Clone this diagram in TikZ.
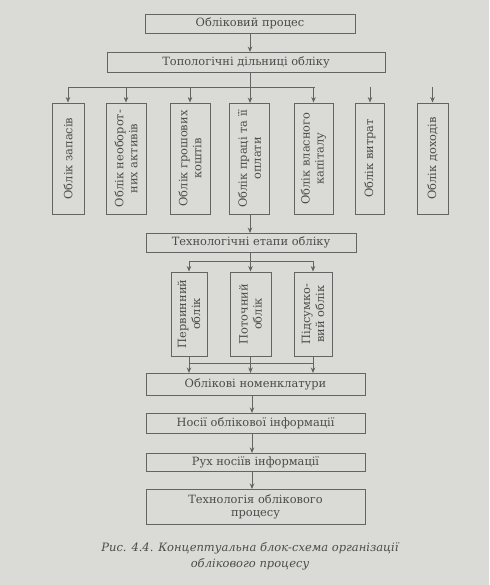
\documentclass[tikz,border=0pt]{standalone}
\usepackage{fontspec}
\setmainfont{DejaVu Serif}
\usetikzlibrary{arrows.meta}
\definecolor{paper}{RGB}{218,218,215}
\definecolor{ink}{RGB}{75,75,75}
\definecolor{linec}{RGB}{100,100,100}
\tikzset{
  hbox/.style={draw=linec, line width=0.9pt, fill=paper, text=ink, font=\fontsize{11.4}{13}\selectfont, inner sep=0pt, align=center},
  vbox/.style={draw=linec, line width=0.9pt, fill=paper, text=ink, font=\fontsize{11.4}{14}\selectfont, inner sep=0pt, align=center, rotate=90},
  arr/.style={draw=linec, line width=0.8pt, -{Stealth[length=5.5pt,width=4.5pt]}},
  ln/.style={draw=linec, line width=0.8pt}
}
\begin{document}
\begin{tikzpicture}[x=1pt,y=-1pt]
\fill[paper] (0,0) rectangle (489,585);
\useasboundingbox (0,0) rectangle (489,585);

\node[hbox, minimum width=210pt, minimum height=19pt] (top) at (250,23.5) {Обліковий процес};
\node[hbox, minimum width=278pt, minimum height=20pt] (topo) at (246,62) {Топологічні дільниці обліку};

\node[vbox, minimum width=111pt, minimum height=32pt] (v1) at (68,158.5) {Облік запасів};
\node[vbox, minimum width=111pt, minimum height=40pt] (v2) at (126,158.5) {Облік необорот-\\них активів};
\node[vbox, minimum width=111pt, minimum height=40pt] (v3) at (190,158.5) {Облік грошових\\коштів};
\node[vbox, minimum width=111pt, minimum height=40pt] (v4) at (249.5,158.5) {Облік праці та її\\оплати};
\node[vbox, minimum width=111pt, minimum height=39pt] (v5) at (313.5,158.5) {Облік власного\\капіталу};
\node[vbox, minimum width=111pt, minimum height=29pt] (v6) at (370,158.5) {Облік витрат};
\node[vbox, minimum width=111pt, minimum height=31pt] (v7) at (432.5,158.5) {Облік доходів};

\node[hbox, minimum width=210pt, minimum height=19pt] (tech) at (251,242.5) {Технологічні етапи обліку};

\node[vbox, minimum width=84pt, minimum height=36pt] (l1) at (189,314) {Первинний\\облік};
\node[vbox, minimum width=84pt, minimum height=41pt] (l2) at (250.5,314) {Поточний\\облік};
\node[vbox, minimum width=84pt, minimum height=38pt] (l3) at (313,314) {Підсумко-\\вий облік};

\node[hbox, minimum width=219pt, minimum height=22pt] (nom) at (255.5,384) {Облікові номенклатури};
\node[hbox, minimum width=219pt, minimum height=20pt] (nos) at (255.5,423) {Носії облікової інформації};
\node[hbox, minimum width=219pt, minimum height=18pt] (rukh) at (255.5,462) {Рух носіїв інформації};
\node[hbox, minimum width=219pt, minimum height=35pt] (techn) at (255.5,506.5) {Технологія облікового\\процесу};

\node[text=ink, font=\fontsize{11.5}{16}\selectfont\itshape, align=center, inner sep=0pt] (cap) at (250,556) {Рис. 4.4. Концептуальна блок-схема організації\\облікового процесу};

% top to topo
\draw[arr] (250,33) -- (250,52);
% bus 1
\coordinate (b0) at (250,87);
\draw[ln] (250,72) -- (b0);
\draw[ln] (68,87) -- (315,87);
\draw[arr] (68,87) -- (v1.east);
\draw[arr] (126,87) -- (v2.east);
\draw[arr] (190,87) -- (v3.east);
\draw[arr] (250,87) -- (250,103);
\draw[arr] (313.5,87) -- (v5.east);
\coordinate (f6) at (370,87);
\coordinate (f7) at (432.5,87);
\draw[arr] (f6) -- (v6.east);
\draw[arr] (f7) -- (v7.east);
% v4 to tech
\draw[arr] (250,214) -- (250,233);
% bus 2
\draw[ln] (250,252) -- (250,261);
\draw[ln] (189,261) -- (313,261);
\draw[arr] (189,261) -- (l1.east);
\draw[arr] (250.5,261) -- (l2.east);
\draw[arr] (313,261) -- (l3.east);
% bus 3
\draw[ln] (l1.west) -- (189,363);
\draw[ln] (l2.west) -- (250.5,363);
\draw[ln] (l3.west) -- (313,363);
\draw[ln] (189,363) -- (313,363);
\draw[arr] (189,363) -- (189,373);
\draw[arr] (250.5,363) -- (250.5,373);
\draw[arr] (313,363) -- (313,373);
% chain
\draw[arr] (252,395) -- (252,413);
\draw[arr] (252,433) -- (252,453);
\draw[arr] (252,471) -- (252,489);
\end{tikzpicture}
\end{document}
